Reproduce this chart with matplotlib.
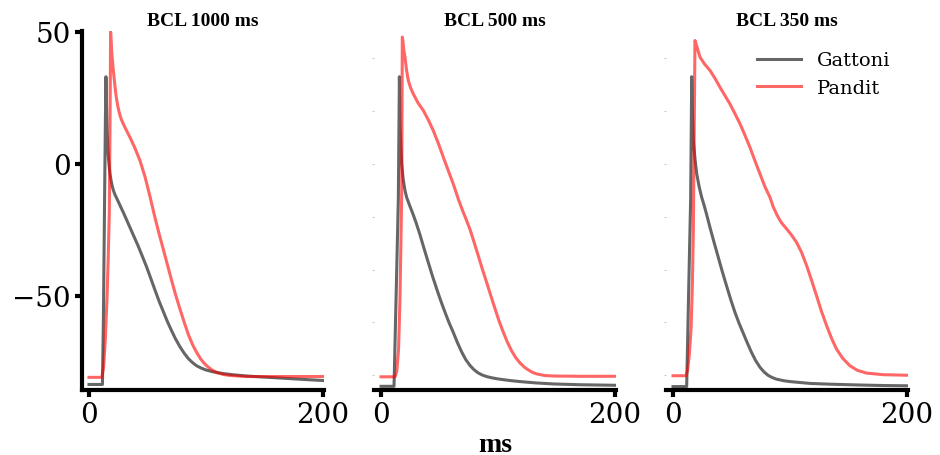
"""Action potentials of the Gattoni and Pandit models at three pacing rates."""

import matplotlib

matplotlib.use("Agg")

import matplotlib.pyplot as plt

# Panel titles, one per basic cycle length
titles = ["BCL 1000 ms", "BCL 500 ms", "BCL 350 ms"]
labels = ["Gattoni", "Pandit"]

# BCL 1000 ms
t_gat_1000 = [0, 11.5, 12.3, 13.2, 14.0, 14.5, 15.0, 15.5, 16.0, 16.6, 17.3, 18, 19, 20,
              21, 22.3, 23.7, 25.5, 27.5, 29.5, 32, 35, 38.5, 42, 45.5, 49.3, 53, 56.5, 60,
              63.5, 67, 70.5, 74, 77.8, 81.5, 85, 88.5, 92, 96, 100, 106, 115, 125, 135,
              150, 165, 180, 200]
v_gat_1000 = [-83.5, -83.5, -60, -20, 15, 33, 22, 13, 7, 2.5, -1, -3.8, -6.5, -8.6,
              -10.2, -11.7, -13, -14.7, -16.6, -18.5, -21, -24, -27.5, -31, -34.8, -39, -43.5,
              -47.8, -52, -55.8, -59.6, -63, -66.2, -69.2, -71.7, -73.7, -75.2, -76.4, -77.3,
              -78, -78.7, -79.4, -79.9, -80.3, -80.7, -81.1, -81.5, -82]
t_pan_1000 = [0, 11, 12.5, 14, 15.5, 16.5, 17.4, 18, 18.5, 19, 19.5, 20.2, 20.8, 21.5,
              22.2, 23, 23.8, 24.7, 25.7, 26.8, 27.9, 29.4, 31, 35, 39, 43.6, 48, 52, 56, 60,
              63.5, 67, 70.5, 74, 77.8, 81.5, 85, 88.5, 92, 95.5, 99, 102.5, 106, 110, 115,
              120.5, 135, 160, 200]
v_pan_1000 = [-80.8, -80.8, -77, -66, -50, -35, -18, 15, 50, 46, 42, 38.5, 35.5, 32.5,
              29.5, 26.5, 24, 21.8, 19.8, 18, 16.6, 15.1, 13.6, 10.1, 6.3, 1.3, -5, -12, -19.5,
              -26.5, -32.2, -38, -43.8, -49.4, -54.9, -60, -64.6, -68.3, -71.3, -73.8, -75.7,
              -77.1, -78.2, -79.1, -79.7, -80.1, -80.5, -80.5, -80.5]

# BCL 500 ms
t_gat_500 = [0, 11.1, 13, 14.8, 15.7, 16.2, 17.0, 17.7, 19, 20.5, 22, 24, 26.2, 28, 30,
             33.3, 36.5, 40, 43.8, 47.6, 51, 54.5, 58, 61.8, 65.5, 69, 72.5, 76.1, 79.5, 83,
             86.5, 90.3, 95, 100, 110, 118.8, 132, 147.3, 170, 200]
v_gat_500 = [-84.2, -84.2, -48, -13.3, 33, 15, 6, 0, -6, -10.1, -12.8, -15.2, -17.7, -19.8,
             -22.3, -26.8, -31.6, -36.7, -42.2, -47.3, -51.7, -55.9, -59.9, -63.8, -67.8, -71.2,
             -74.1, -76.3, -77.9, -79.1, -79.9, -80.5, -81, -81.4, -82, -82.4, -82.9, -83.3,
             -83.6, -83.8]
t_pan_500 = [0, 12, 13.5, 15, 16.2, 17, 17.7, 18.2, 18.7, 19.5, 20.5, 21.8, 23.3, 25.3,
             27.6, 31.5, 36.2, 40.5, 44.7, 49, 53.3, 57.5, 61.8, 66.1, 70.3, 73, 76.1, 79.5,
             83, 86.5, 90.3, 94, 97.5, 101, 104.5, 108, 111.5, 115, 118.8, 122.5, 126, 129.5,
             133.1, 140, 147.3, 170, 200]
v_pan_500 = [-80.6, -80.6, -78.5, -70, -51, -30, -10, 48, 46.5, 43, 40.4, 35.5, 31.6, 28.8,
             26.5, 23.2, 20.2, 16.6, 12.6, 7.8, 2.5, -2.5, -7.6, -13.3, -18.3, -21.2, -24.8,
             -29.5, -34.5, -39.6, -44.8, -50, -54.8, -59.5, -63.6, -67.4, -70.6, -73.2, -75.3,
             -76.9, -78, -78.9, -79.5, -80.1, -80.3, -80.4, -80.4]

# BCL 350 ms
t_gat_350 = [0, 11.7, 13.4, 15.1, 16, 16.6, 17.4, 18.8, 20.3, 22.3, 24.5, 26.5, 28.8,
             31.6, 35, 38.5, 42, 45.9, 49.5, 53, 56.5, 60.1, 63.5, 67, 70.5, 74.4, 78, 81.5,
             85, 88.6, 95, 100, 117.1, 135, 159.8, 180, 200]
v_gat_350 = [-84.3, -84.3, -48, -13.3, 33, 20, 8.8, 2, -3.8, -8.5, -12.6, -15.5, -19.2,
             -24, -29.5, -35, -40.5, -46.3, -51.5, -56.2, -60.3, -64.1, -67.7, -71.2, -74.3,
             -77, -78.8, -80.1, -80.9, -81.5, -82.1, -82.4, -83.1, -83.4, -83.7, -83.9, -84]
t_pan_350 = [0, 11.1, 12.5, 14, 15.5, 16.6, 17.4, 18, 18.8, 20, 23.1, 27, 31.6, 36, 40.2,
             44.5, 48.7, 53, 57.3, 61.5, 65.8, 70, 74.4, 78.7, 82.9, 85.7, 88.6, 91, 93,
             97.2, 101.5, 105.7, 110, 114.3, 118.5, 122.8, 127, 131.4, 135.6, 139.9, 145,
             151.3, 158, 165.6, 180, 200]
v_pan_350 = [-80.2, -80.2, -78, -72, -62, -45, -25, 5, 46.7, 45, 40.4, 37.8, 35.4, 32.3, 29,
             25.8, 22.7, 19, 15.2, 10.9, 6.3, 1.3, -3.8, -8.7, -12.6, -16.2, -19.0, -21.0,
             -22.4, -24.6, -27, -29.7, -33.5, -38.5, -44, -49.9, -55.8, -61.2, -66, -70.1,
             -73.5, -76.4, -78.2, -79.2, -79.8, -80]

gattoni = [(t_gat_1000, v_gat_1000), (t_gat_500, v_gat_500), (t_gat_350, v_gat_350)]
pandit = [(t_pan_1000, v_pan_1000), (t_pan_500, v_pan_500), (t_pan_350, v_pan_350)]

SERIF = "DejaVu Serif"
TITLE_FONT = dict(family="Liberation Serif", weight="bold", size=14)

fig = plt.figure(figsize=(9.4, 4.56), dpi=100)
lefts = [0.0872, 0.3979, 0.7085]
axes = [fig.add_axes([x0, 0.1425, 0.2574, 0.7873]) for x0 in lefts]

for i, ax in enumerate(axes):
    tg, vg = gattoni[i]
    tp, vp = pandit[i]
    ax.plot(tg, vg, color="black", alpha=0.6, lw=2.2, label=labels[0],
            solid_joinstyle="round")
    ax.plot(tp, vp, color="red", alpha=0.6, lw=2.2, label=labels[1],
            solid_joinstyle="round")
    ax.set_xlim(-6, 201)
    ax.set_ylim(-85.6, 50.3)
    ax.set_xticks([0, 200])
    ax.set_title(titles[i], fontdict=TITLE_FONT, pad=4)
    ax.spines[["top", "right"]].set_visible(False)
    ax.spines["bottom"].set_linewidth(3)
    ax.tick_params(axis="x", length=5, width=3, pad=3, labelsize=20)
    for lab in ax.get_xticklabels():
        lab.set_family(SERIF)
    if i == 0:
        ax.set_yticks([-50, 0, 50])
        ax.spines["left"].set_linewidth(3)
        ax.tick_params(axis="y", length=5, width=3, pad=3, labelsize=20)
        for lab in ax.get_yticklabels():
            lab.set_family(SERIF)
    else:
        ax.set_yticks([-80, -60, -40, -20, 0, 20, 40])
        ax.spines["left"].set_visible(False)
        ax.tick_params(axis="y", length=1.2, width=0.6, color="#bbbbbb", labelleft=False)

axes[1].set_xlabel("ms", family="Liberation Serif", weight="bold", size=20, labelpad=3)
axes[2].legend(frameon=False, loc="upper right", bbox_to_anchor=(1.0, 0.992),
               prop={"family": SERIF, "size": 14}, handlelength=2.3, handletextpad=0.8)

fig.savefig("out.png", dpi=100)
